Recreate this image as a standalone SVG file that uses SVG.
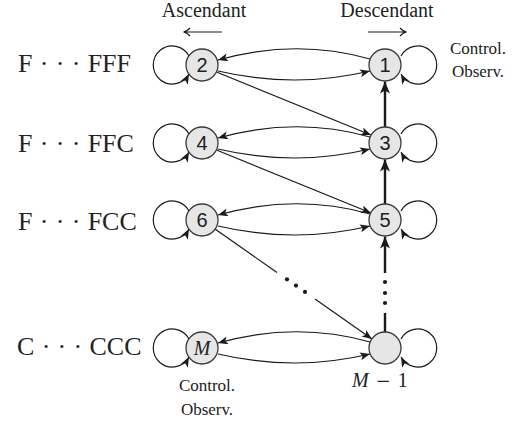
<svg xmlns="http://www.w3.org/2000/svg" width="527" height="422" viewBox="0 0 527 422">
<style>
.bg{fill:#ffffff}
.node{fill:#e6e6e6;stroke:#3a3a3a;stroke-width:1.3}
.num{font-family:"Liberation Sans",Arial,sans-serif;font-size:20px;fill:#222;text-anchor:middle}
.lbl{font-family:"Liberation Serif","Times New Roman",serif;fill:#222}
.row{font-size:26px;word-spacing:0.8px}
.hdr{font-size:20px;text-anchor:middle}
.note{font-size:17px;text-anchor:middle}
.e{fill:none;stroke:#1a1a1a;stroke-width:1.2}
.t{fill:none;stroke:#1a1a1a;stroke-width:2.4}
.dot{fill:#1a1a1a}
</style>
<defs>
<marker id="ah" markerUnits="userSpaceOnUse" markerWidth="12" markerHeight="10" refX="10" refY="4" orient="auto">
<path d="M0,0 L10,4 L0,8 L2.5,4 Z" fill="#1a1a1a"/>
</marker>
<marker id="ahT" markerUnits="userSpaceOnUse" markerWidth="14" markerHeight="12" refX="12" refY="5" orient="auto">
<path d="M0,0 L12,5 L0,10 L3,5 Z" fill="#1a1a1a"/>
</marker>
</defs>
<rect class="bg" x="0" y="0" width="527" height="422"/>

<g id="headers">
<text class="lbl hdr" x="204" y="17">Ascendant</text>
<path class="e" d="M222,32 L184,32 M190,28 Q187,31.4 183.5,32 Q187,32.6 190,36"/>
<text class="lbl hdr" x="387" y="17">Descendant</text>
<path class="e" d="M368,32 L406,32 M400,28 Q403,31.4 406.5,32 Q403,32.6 400,36"/>
</g>

<g id="row-labels">
<text class="lbl row" x="18" y="72">F · · · FFF</text>
<text class="lbl row" x="18" y="152">F · · · FFC</text>
<text class="lbl row" x="18" y="230">F · · · FCC</text>
<text class="lbl row" x="17" y="355">C · · · CCC</text>
</g>

<g id="connectors">
<!-- row 1 -->
<path class="e" marker-end="url(#ah)" d="M370,59 Q296,38 218,60"/>
<path class="e" marker-end="url(#ah)" d="M218,71 Q295,89 370,71"/>
<path class="e" marker-end="url(#ah)" d="M189,56 A19,19 0 1 0 189,74"/>
<path class="e" marker-end="url(#ah)" d="M401,56 A19,19 0 1 1 401,74"/>
<!-- row 2 -->
<path class="e" marker-end="url(#ah)" d="M370,137 Q296,116 218,138"/>
<path class="e" marker-end="url(#ah)" d="M218,149 Q295,167 370,149"/>
<path class="e" marker-end="url(#ah)" d="M189,134 A19,19 0 1 0 189,152"/>
<path class="e" marker-end="url(#ah)" d="M401,134 A19,19 0 1 1 401,152"/>
<!-- row 3 -->
<path class="e" marker-end="url(#ah)" d="M370,214 Q296,193 218,215"/>
<path class="e" marker-end="url(#ah)" d="M218,226 Q295,244 370,226"/>
<path class="e" marker-end="url(#ah)" d="M189,211 A19,19 0 1 0 189,229"/>
<path class="e" marker-end="url(#ah)" d="M401,211 A19,19 0 1 1 401,229"/>
<!-- row 4 -->
<path class="e" marker-end="url(#ah)" d="M370,342 Q296,321 218,343"/>
<path class="e" marker-end="url(#ah)" d="M218,354 Q295,372 370,354"/>
<path class="e" marker-end="url(#ah)" d="M189,339 A19,19 0 1 0 189,357"/>
<path class="e" marker-end="url(#ah)" d="M401,339 A19,19 0 1 1 401,357"/>
<!-- diagonals -->
<path class="e" marker-end="url(#ah)" d="M216.5,72 L371,135"/>
<path class="e" marker-end="url(#ah)" d="M216.5,150 L371,213"/>
<path class="e" d="M215,229 L277,272.5"/>
<circle class="dot" cx="287" cy="279.3" r="2.1"/>
<circle class="dot" cx="296" cy="285.6" r="2.1"/>
<circle class="dot" cx="305" cy="291.9" r="2.1"/>
<path class="e" marker-end="url(#ah)" d="M315,299 L372,339"/>
<!-- vertical -->
<path class="t" marker-end="url(#ahT)" d="M385,127 L385,81.5"/>
<path class="t" marker-end="url(#ahT)" d="M385,204 L385,159.5"/>
<path class="t" marker-end="url(#ahT)" d="M385,273 L385,236.5"/>
<circle class="dot" cx="385" cy="282" r="2.1"/>
<circle class="dot" cx="385" cy="293" r="2.1"/>
<circle class="dot" cx="385" cy="303" r="2.1"/>
<path class="t" d="M385,313 L385,332"/>
</g>

<g id="node-2"><circle class="node" cx="202" cy="65" r="16"/><text class="num" x="202" y="72">2</text></g>
<g id="node-1"><circle class="node" cx="385" cy="65" r="16"/><text class="num" x="385" y="72">1</text></g>
<g id="node-4"><circle class="node" cx="202" cy="143" r="16"/><text class="num" x="202" y="150">4</text></g>
<g id="node-3"><circle class="node" cx="385" cy="143" r="16"/><text class="num" x="385" y="150">3</text></g>
<g id="node-6"><circle class="node" cx="202" cy="220" r="16"/><text class="num" x="202" y="227">6</text></g>
<g id="node-5"><circle class="node" cx="385" cy="220" r="16"/><text class="num" x="385" y="227">5</text></g>
<g id="node-M"><circle class="node" cx="202" cy="348" r="16"/><text class="lbl" x="202" y="355" font-size="20" font-style="italic" text-anchor="middle" fill="#444">M</text></g>
<g id="node-M-1"><circle class="node" cx="385" cy="348" r="16"/></g>

<g id="notes">
<text class="lbl note" x="478" y="54">Control.</text>
<text class="lbl note" x="478" y="77">Observ.</text>
<text class="lbl note" x="207" y="391">Control.</text>
<text class="lbl note" x="207" y="415">Observ.</text>
<text class="lbl" x="352" y="387" font-size="20" fill="#333" word-spacing="2"><tspan font-style="italic">M</tspan> <tspan font-family="'DejaVu Serif',serif" font-size="18">−</tspan> 1</text>
</g>
</svg>
